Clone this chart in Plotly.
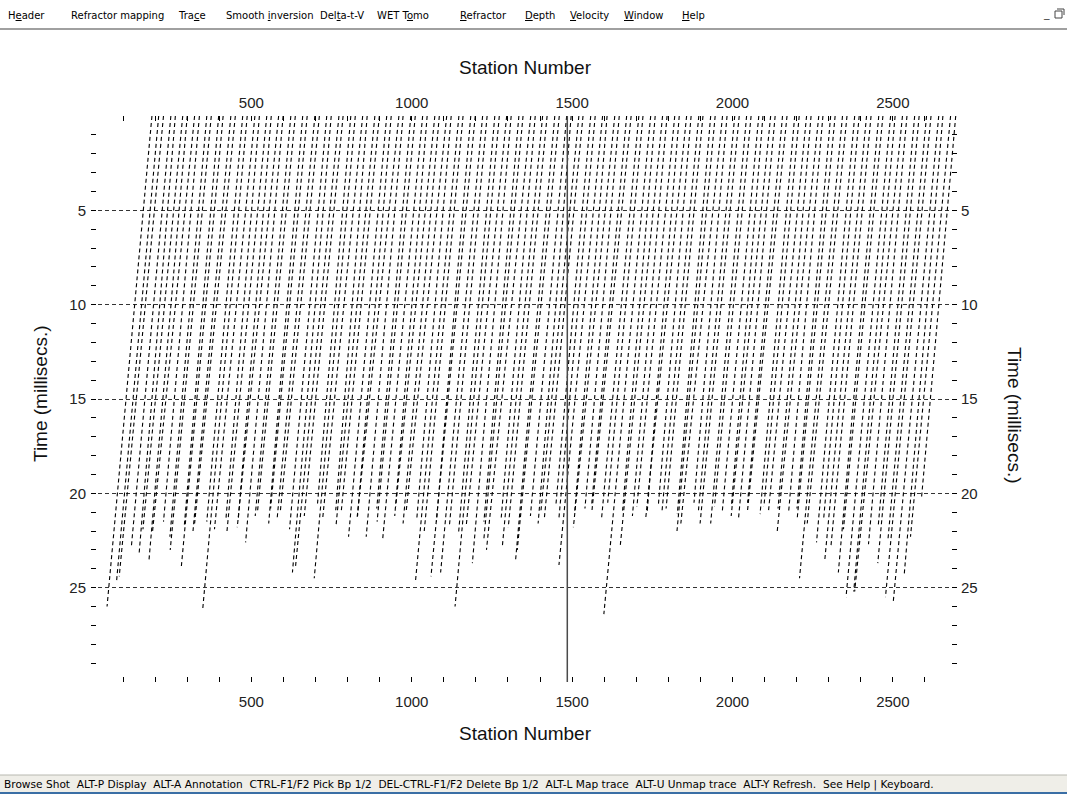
import plotly.graph_objects as go

# ---------------- data ----------------
top_station = [190, 211, 226, 249, 263, 286, 300, 323, 338, 361, 375, 398, 412, 436, 450, 473,
               487, 511, 525, 548, 562, 585, 599, 623, 637, 660, 674, 698, 712, 735, 749, 773,
               786, 810, 824, 847, 861, 885, 899, 922, 936, 960, 973, 997, 1011, 1034, 1048, 1072,
               1086, 1109, 1123, 1147, 1160, 1184, 1198, 1221, 1235, 1259, 1273, 1296, 1310, 1334,
               1347, 1371, 1385, 1408, 1422, 1446, 1460, 1483, 1497, 1521, 1534, 1558, 1572, 1595,
               1609, 1633, 1647, 1670, 1684, 1708, 1721, 1745, 1759, 1782, 1796, 1820, 1834, 1857,
               1871, 1895, 1908, 1932, 1946, 1969, 1983, 2007, 2021, 2044, 2058, 2082, 2095, 2119,
               2133, 2156, 2170, 2194, 2208, 2231, 2245, 2269, 2282, 2306, 2320, 2343, 2357, 2381,
               2395, 2418, 2432, 2456, 2469, 2493, 2507, 2530, 2544, 2568, 2582, 2605, 2619, 2643,
               2656, 2680, 2696]
end_station = [50, 80, 88, 126, 150, 162, 181, 192, 226, 246, 247, 291, 281, 318, 323, 361,
               348, 385, 421, 424, 459, 456, 482, 512, 519, 554, 560, 580, 590, 619, 628, 637,
               665, 706, 696, 722, 763, 764, 780, 803, 831, 829, 858, 891, 892, 909, 947, 950,
               973, 983, 1016, 1012, 1039, 1077, 1060, 1090, 1117, 1146, 1135, 1170, 1189, 1225,
               1225, 1233, 1279, 1282, 1301, 1324, 1329, 1370, 1394, 1403, 1413, 1449, 1459, 1459,
               1508, 1504, 1540, 1561, 1562, 1592, 1611, 1599, 1657, 1650, 1688, 1702, 1734, 1729,
               1769, 1780, 1793, 1828, 1827, 1839, 1880, 1894, 1899, 1932, 1944, 1968, 1997, 1996,
               2019, 2047, 2047, 2086, 2098, 2112, 2142, 2139, 2175, 2201, 2202, 2209, 2233, 2262,
               2284, 2288, 2307, 2330, 2346, 2354, 2378, 2381, 2424, 2454, 2453, 2485, 2477, 2501,
               2535, 2555, 2589]
end_time = [26.0, 24.6, 24.4, 22.8, 23.2, 21.9, 23.5, 22.0, 21.5, 22.3, 23.0, 21.7, 24.0, 22.0,
            21.6, 21.5, 26.2, 21.9, 21.3, 22.0, 21.4, 21.8, 22.6, 21.2, 21.0, 21.6, 20.8, 21.4,
            21.0, 21.9, 24.2, 24.0, 21.2, 20.6, 24.5, 21.4, 20.9, 21.7, 21.0, 22.3, 21.2, 21.4,
            22.3, 20.8, 21.5, 22.5, 21.2, 20.7, 21.6, 20.9, 21.3, 24.6, 22.0, 21.5, 24.4, 24.2,
            21.8, 22.1, 26.0, 21.7, 23.7, 21.5, 22.4, 23.0, 21.3, 22.9, 21.8, 23.5, 23.0, 21.2,
            21.6, 20.9, 21.4, 20.7, 21.3, 23.8, 21.0, 21.8, 20.8, 20.6, 20.9, 21.3, 20.5, 26.4,
            21.0, 22.8, 21.2, 20.7, 21.0, 21.4, 20.6, 21.0, 20.8, 21.1, 22.0, 21.6, 20.5, 20.9,
            21.6, 21.6, 20.7, 21.0, 20.6, 21.2, 21.3, 20.5, 20.9, 21.1, 20.7, 21.0, 20.8, 22.1,
            21.0, 20.8, 21.3, 24.5, 21.6, 22.6, 21.4, 23.5, 22.8, 24.2, 21.9, 25.5, 25.2, 25.2,
            22.7, 21.8, 23.7, 22.4, 25.5, 25.8, 24.4, 22.3, 20.3]

x_tick_values = [500, 1000, 1500, 2000, 2500]
y_tick_values = [5, 10, 15, 20, 25]
station_range = [0, 2700]
time_range = [30, 0]
marker_station = 1485

menu_items = ["H<u>e</u>ader", "Refractor mapping", "Tra<u>c</u>e", "Smooth <u>i</u>nversion",
              "Del<u>t</u>a-t-V", "WET T<u>o</u>mo", "<u>R</u>efractor", "<u>D</u>epth",
              "<u>V</u>elocity", "<u>W</u>indow", "<u>H</u>elp"]
menu_x = [6, 69, 176, 224, 318, 375, 458, 523, 568, 622, 680]
status_text = ("Browse Shot  ALT-P Display  ALT-A Annotation  CTRL-F1/F2 Pick Bp 1/2  "
               "DEL-CTRL-F1/F2 Delete Bp 1/2  ALT-L Map trace  ALT-U Unmap trace  "
               "ALT-Y Refresh.  See Help | Keyboard.")

# ---------------- layout geometry ----------------
W, H = 1067, 794
L, R, T, B = 91, 957, 116, 682


def px(x):
    return (x - L) / (R - L)


def py(y):
    return (B - y) / (B - T)


xs, ys = [], []
for s0, s1, t in zip(top_station, end_station, end_time):
    xs += [s0, s1, None]
    ys += [0, t, None]

fig = go.Figure()
fig.add_trace(go.Scatter(x=xs, y=ys, mode="lines",
                         line=dict(color="#000000", width=1.1, dash="4px,3px"),
                         hoverinfo="skip", showlegend=False))
fig.add_trace(go.Scatter(x=[marker_station, marker_station], y=[time_range[1], time_range[0]],
                         mode="lines", line=dict(color="#4a4a4a", width=1.5),
                         hoverinfo="skip", showlegend=False))
fig.add_trace(go.Scatter(x=[station_range[0]], y=[time_range[1]], xaxis="x2", yaxis="y2",
                         mode="markers", marker=dict(opacity=0), hoverinfo="skip",
                         showlegend=False))

tick_font = dict(family="Liberation Sans, Arial, sans-serif", size=15, color="#222222")
title_font = dict(family="Liberation Sans, Arial, sans-serif", size=19, color="#111111")

xcommon = dict(range=station_range, tickvals=x_tick_values, ticks="inside", ticklen=5,
               tickwidth=1, tickcolor="#000000", showgrid=False, zeroline=False,
               showline=False, tickfont=tick_font,
               minor=dict(tick0=0, dtick=100, ticks="inside", ticklen=5, tickwidth=1,
                          tickcolor="#000000", showgrid=False))
ycommon = dict(range=time_range, tickvals=y_tick_values, ticks="inside", ticklen=5,
               tickwidth=1, tickcolor="#000000", zeroline=False, showline=False,
               tickfont=tick_font,
               minor=dict(tick0=0, dtick=1, ticks="inside", ticklen=5, tickwidth=1,
                          tickcolor="#000000", showgrid=False))

fig.update_layout(
    width=W, height=H,
    margin=dict(l=L, r=W - R, t=T, b=H - B, pad=0),
    paper_bgcolor="white", plot_bgcolor="white",
    showlegend=False,
    xaxis=dict(**xcommon, side="bottom", ticklabelstandoff=9),
    xaxis2=dict(**xcommon, side="top", overlaying="x", ticklabelstandoff=4),
    yaxis=dict(**ycommon, side="left", showgrid=True, gridcolor="#333333", gridwidth=1,
               griddash="4px,3px", ticklabelstandoff=4),
    yaxis2=dict(**ycommon, side="right", overlaying="y", showgrid=False,
                ticklabelstandoff=3),
)

ann = []
ann.append(dict(text="Station Number", x=px(525), y=py(67), font=title_font))
ann.append(dict(text="Station Number", x=px(525), y=py(733), font=title_font))
ann.append(dict(text="Time (millisecs.)", x=px(40), y=py(394), textangle=-90, font=title_font))
ann.append(dict(text="Time (millisecs.)", x=px(1015), y=py(415), textangle=90, font=title_font))
for a in ann:
    a.update(xref="paper", yref="paper", showarrow=False, xanchor="center", yanchor="middle")

menu_font = dict(family="DejaVu Sans, sans-serif", size=10, color="#000000")
status_font = dict(family="DejaVu Sans, sans-serif", size=10.6, color="#000000")
for label, mx in zip(menu_items, menu_x):
    ann.append(dict(text=label, x=px(mx), y=py(15), xref="paper", yref="paper",
                    showarrow=False, xanchor="left", yanchor="middle", font=menu_font))
ann.append(dict(text=status_text, x=px(2), y=py(784), xref="paper", yref="paper",
                showarrow=False, xanchor="left", yanchor="middle", font=status_font))
ann.append(dict(text="_", x=px(1046), y=py(13), xref="paper", yref="paper",
                showarrow=False, xanchor="center", yanchor="middle",
                font=dict(family="DejaVu Sans", size=11, color="#333")))
fig.update_layout(annotations=ann)

shapes = [
    # menu bar separator
    dict(type="line", x0=px(0), x1=px(W), y0=py(29), y1=py(29), line=dict(color="#a0a0a0", width=2)),
    # status bar
    dict(type="rect", x0=px(0), x1=px(W), y0=py(775), y1=py(792), line=dict(width=0),
         fillcolor="#efeee8", layer="below"),
    dict(type="line", x0=px(0), x1=px(W), y0=py(775), y1=py(775), line=dict(color="#b8b8b0", width=1)),
    dict(type="rect", x0=px(0), x1=px(W), y0=py(792), y1=py(794), line=dict(width=0),
         fillcolor="#3a6ea5"),
    # restore icon
    dict(type="rect", x0=px(1055), x1=px(1062), y0=py(11), y1=py(18), line=dict(color="#444", width=1)),
    dict(type="line", x0=px(1057), x1=px(1064), y0=py(9), y1=py(9), line=dict(color="#444", width=1)),
    dict(type="line", x0=px(1064), x1=px(1064), y0=py(9), y1=py(15), line=dict(color="#444", width=1)),
]
for s in shapes:
    s.update(xref="paper", yref="paper")
fig.update_layout(shapes=shapes)

fig.write_html("out.html", config={"displayModeBar": False},
               post_script="document.body.style.margin='0';document.body.style.overflow='hidden';")
